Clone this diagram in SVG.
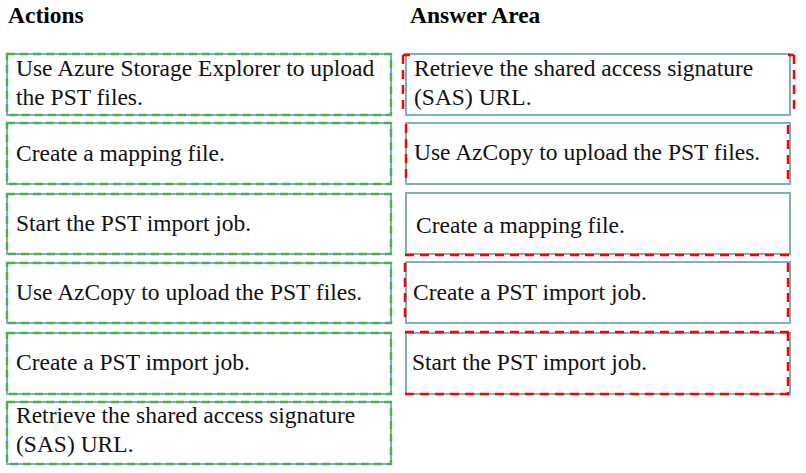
<svg xmlns="http://www.w3.org/2000/svg" width="806" height="473" viewBox="0 0 806 473">
<style>
.bg{fill:#fff}
.box{fill:#fff;stroke:#7fb0c0;stroke-width:2}
.grn{fill:none;stroke:#4cb050;stroke-width:2.5;stroke-dasharray:8 5}
.red{fill:none;stroke:#ff0000;stroke-width:2.5;stroke-dasharray:9 6}
.t{font-family:"Liberation Serif","Times New Roman",serif;font-size:23.5px;fill:#111}
.h{font-family:"Liberation Serif","Times New Roman",serif;font-size:23.5px;font-weight:bold;fill:#000}
</style>
<rect class="bg" x="0" y="0" width="806" height="473"/>
<text class="h" x="8" y="23">Actions</text>
<text class="h" x="410" y="23">Answer Area</text>
<g id="actions">
<g id="a1"><rect class="box" x="7" y="54" width="384" height="61"/><rect class="grn" x="7" y="54" width="384" height="61"/><text class="t" x="16" y="76">Use Azure Storage Explorer to upload</text><text class="t" x="16" y="105">the PST files.</text></g>
<g id="a2"><rect class="box" x="7" y="123" width="384" height="61"/><rect class="grn" x="7" y="123" width="384" height="61"/><text class="t" x="16" y="161">Create a mapping file.</text></g>
<g id="a3"><rect class="box" x="7" y="194" width="384" height="60"/><rect class="grn" x="7" y="194" width="384" height="60"/><text class="t" x="16" y="231">Start the PST import job.</text></g>
<g id="a4"><rect class="box" x="7" y="263" width="384" height="60"/><rect class="grn" x="7" y="263" width="384" height="60"/><text class="t" x="16" y="300">Use AzCopy to upload the PST files.</text></g>
<g id="a5"><rect class="box" x="7" y="333" width="384" height="61"/><rect class="grn" x="7" y="333" width="384" height="61"/><text class="t" x="16" y="370">Create a PST import job.</text></g>
<g id="a6"><rect class="box" x="7" y="402" width="384" height="62"/><rect class="grn" x="7" y="402" width="384" height="62"/><text class="t" x="16" y="423">Retrieve the shared access signature</text><text class="t" x="16" y="452">(SAS) URL.</text></g>
</g>
<g id="answers">
<g id="b1"><rect class="box" x="406" y="54" width="384" height="61"/><text class="t" x="414" y="76">Retrieve the shared access signature</text><text class="t" x="414" y="105">(SAS) URL.</text></g>
<g id="b2"><rect class="box" x="406" y="123" width="384" height="61"/><text class="t" x="414" y="160">Use AzCopy to upload the PST files.</text></g>
<g id="b3"><rect class="box" x="406" y="193" width="384" height="61"/><text class="t" x="416" y="233">Create a mapping file.</text></g>
<g id="b4"><rect class="box" x="406" y="262" width="384" height="61"/><text class="t" x="413" y="300">Create a PST import job.</text></g>
<g id="b5"><rect class="box" x="406" y="333" width="384" height="61"/><text class="t" x="412" y="370">Start the PST import job.</text></g>
</g>
<g id="highlights">
<path class="red" d="M403 55V115M794 55V115M403 55H410M788 55H794"/>
<path class="red" d="M406 124V184M788 125V184"/>
<path class="red" d="M405 255H790"/>
<path class="red" d="M405 263V323M788 263V323"/>
<path class="red" d="M405 332H790M405 394H790M788 332V394"/>
</g>
</svg>
